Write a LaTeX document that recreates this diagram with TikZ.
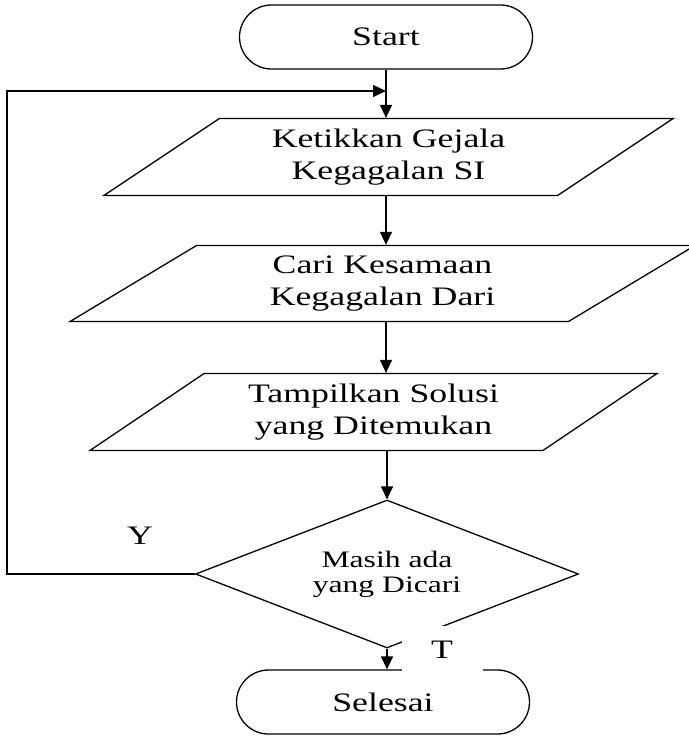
\documentclass[tikz,border=0pt]{standalone}
\usepackage{fontspec}
\setmainfont{Liberation Serif}[FakeStretch=1.34]
\usetikzlibrary{shapes.geometric,shapes.misc,arrows.meta}
\tikzset{
every node/.style={font=\fontsize{26.7}{32}\selectfont},
term/.style={draw, shape=rounded rectangle, minimum width=293pt, minimum height=64pt, inner sep=0pt},
io/.style 2 args={draw, shape=trapezium, trapezium left angle=#1, trapezium right angle={180-#1}, trapezium stretches body, minimum width=#2pt, minimum height=76pt, inner xsep=0pt, inner ysep=10.3pt, align=center},
arr/.style={-{Triangle[length=13pt,width=12pt]}},
}
\begin{document}
\begin{tikzpicture}[x=1pt,y=-1pt,line width=1.3pt]
\useasboundingbox (0,0) rectangle (688,736);
\node at (386,37) [term](Start){Start};
\node at (388.5,157) [io={33.7}{569}](Ketik){Ketikkan Gejala\\Kegagalan SI};
\node at (382.5,283.5) [io={31}{625}](Cari){Cari Kesamaan\\Kegagalan Dari};
\node at (373.5,412) [io={34}{567}](Tampil){Tampilkan Solusi\\yang Ditemukan};
\node at (387,574) [draw, shape=diamond, aspect=2.6, minimum width=383pt, minimum height=148pt, inner sep=0pt, align=center, font=\fontsize{23.6}{25}\selectfont](Cek){Masih ada\\yang Dicari};
\node at (383,702) [term](Selesai){Selesai};
\coordinate (back) at (7,91);
\coordinate (join) at (386,91);
\draw[arr] (Start.south) -- (Start.south |- Ketik.north);
\draw[arr] (Ketik.south -| Start) -- (Cari.north -| Start);
\draw[arr] (Cari.south -| Start) -- (Tampil.north -| Start);
\draw[arr] (Tampil.south -| Cek) -- (Cek.north);
\draw[arr] (Cek.south) -- (Cek.south |- Selesai.north);
\draw[arr] (Cek.west) -| (back) -- (join);
\node at (140,536) (Y){Y};
\node at (442,650) [fill=white, minimum width=81pt, minimum height=48pt](T){T};
\end{tikzpicture}
\end{document}
